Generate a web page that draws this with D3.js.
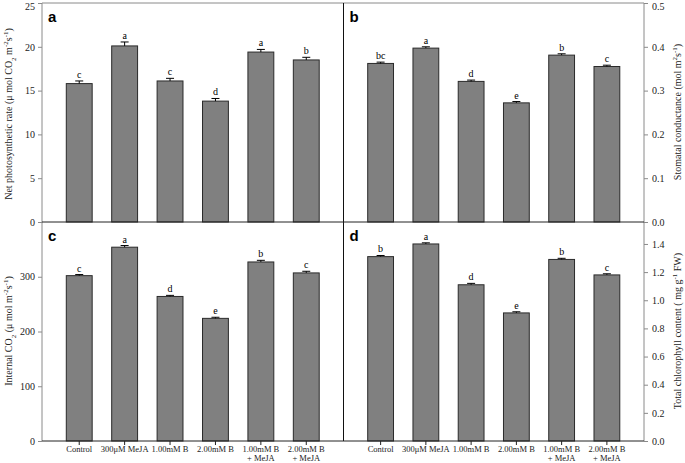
<!DOCTYPE html>
<html><head><meta charset="utf-8">
<script src="https://cdn.jsdelivr.net/npm/d3@7"></script>
<style>body{margin:0;background:#fff}svg{display:block}</style>
</head><body>
<svg id="c" width="685" height="463"></svg>
<script>
const categories = ["Control","300μM MeJA","1.00mM B","2.00mM B","1.00mM B|+ MeJA","2.00mM B|+ MeJA"];
const photoRate = [15.8, 20.1, 16.1, 13.8, 19.4, 18.5];
const photoErr  = [0.3, 0.45, 0.3, 0.3, 0.3, 0.3];
const photoLetters = ["c","a","c","d","a","b"];
const stomCond = [0.362, 0.397, 0.321, 0.272, 0.381, 0.355];
const stomErr  = [0.003, 0.003, 0.003, 0.003, 0.003, 0.003];
const stomLetters = ["bc","a","d","e","b","c"];
const internalCO2 = [302, 354, 264, 224, 327, 307];
const co2Err = [2, 3, 2, 2, 3, 3];
const co2Letters = ["c","a","d","e","b","c"];
const chloro = [1.31, 1.40, 1.11, 0.91, 1.29, 1.18];
const chloroErr = [0.008, 0.008, 0.01, 0.008, 0.008, 0.008];
const chloroLetters = ["b","a","d","e","b","c"];
const ticksA = [0,5,10,15,20,25];
const ticksB = [0,0.1,0.2,0.3,0.4,0.5];
const ticksC = [0,100,200,300];
const ticksD = [0,0.2,0.4,0.6,0.8,1.0,1.2,1.4];

const svg = d3.select("#c");
const L = 42, M = 343.5, R = 644, T = 3, MID = 222, B = 441;
const serif = "'Liberation Serif','Times New Roman',serif";
const axisGray = "#8a8a8a";

function panel(x0, x1, y0, y1, domainMax, vals, errs, letters) {
  const x = d3.scaleBand().domain(categories).range([x0, x1]).paddingInner(0.43).paddingOuter(0.535);
  const y = d3.scaleLinear().domain([0, domainMax]).range([y1, y0]);
  const g = svg.append("g");
  g.selectAll("rect").data(categories).join("rect")
    .attr("x", d => x(d)).attr("width", x.bandwidth())
    .attr("y", (d,i) => y(vals[i])).attr("height", (d,i) => y(0) - y(vals[i]))
    .attr("fill", "#808080").attr("stroke", "#2a2a2a").attr("stroke-width", 1);
  const eb = g.selectAll("g.eb").data(categories).join("g").attr("class","eb");
  eb.append("line")
    .attr("x1", d => x(d) + x.bandwidth()/2).attr("x2", d => x(d) + x.bandwidth()/2)
    .attr("y1", (d,i) => y(vals[i])).attr("y2", (d,i) => y(vals[i] + errs[i]))
    .attr("stroke", "#000").attr("stroke-width", 1);
  eb.append("line")
    .attr("x1", d => x(d) + x.bandwidth()/2 - 4).attr("x2", d => x(d) + x.bandwidth()/2 + 4)
    .attr("y1", (d,i) => y(vals[i] + errs[i])).attr("y2", (d,i) => y(vals[i] + errs[i]))
    .attr("stroke", "#000").attr("stroke-width", 1);
  g.selectAll("text.lt").data(categories).join("text").attr("class","lt")
    .attr("x", d => x(d) + x.bandwidth()/2)
    .attr("y", (d,i) => y(vals[i] + errs[i]) - 3)
    .attr("text-anchor", "middle").attr("font-family", serif).attr("font-size", 10)
    .text((d,i) => letters[i]);
  return {x, y};
}

const pa = panel(L, M, T, MID, 25, photoRate, photoErr, photoLetters);
const pb = panel(M, R, T, MID, 0.5, stomCond, stomErr, stomLetters);
const pc = panel(L, M, MID, B, 400, internalCO2, co2Err, co2Letters);
const pd = panel(M, R, MID, B, 1.556, chloro, chloroErr, chloroLetters);

function styleAxis(g) {
  g.select(".domain").remove();
  g.selectAll(".tick line").attr("stroke", axisGray);
  g.selectAll(".tick text").attr("font-family", serif).attr("font-size", 10).attr("fill", "#222");
}
svg.append("g").attr("transform", `translate(${L},0)`)
  .call(d3.axisLeft(pa.y).tickValues(ticksA).tickSize(4).tickPadding(3)).call(styleAxis);
svg.append("g").attr("transform", `translate(${L},0)`)
  .call(d3.axisLeft(pc.y).tickValues(ticksC).tickSize(4).tickPadding(3)).call(styleAxis);
svg.append("g").attr("transform", `translate(${R},0)`)
  .call(d3.axisRight(pb.y).tickValues(ticksB).tickFormat(d3.format(".1f")).tickSize(4).tickPadding(4)).call(styleAxis);
svg.append("g").attr("transform", `translate(${R},0)`)
  .call(d3.axisRight(pd.y).tickValues(ticksD).tickFormat(d3.format(".1f")).tickSize(4).tickPadding(4)).call(styleAxis);

// keep top tick labels inside the picture
svg.selectAll(".tick text").each(function() {
  const t = d3.select(this);
  const p = this.parentNode.getAttribute("transform");
  const m = /translate\(0,([\d.]+)\)/.exec(p);
  if (m && +m[1] < 6) t.attr("dy", "0.62em");
});

// bottom category axes
[pc, pd].forEach(p => {
  const ax = svg.append("g").attr("transform", `translate(0,${B})`)
    .call(d3.axisBottom(p.x).tickSize(4).tickFormat(""));
  ax.select(".domain").remove();
  ax.selectAll(".tick line").attr("stroke", "#222");
  ax.selectAll(".tick").each(function(d) {
    const t = d3.select(this).append("text").attr("text-anchor","middle")
      .attr("font-family", serif).attr("font-size", 8.5).attr("fill","#222");
    d.split("|").forEach((s, k) => t.append("tspan").attr("x", 0).attr("y", 11 + k*9).text(s));
  });
});

// frame lines
svg.append("line").attr("x1",L).attr("x2",R).attr("y1",T).attr("y2",T).attr("stroke",axisGray);
svg.append("line").attr("x1",L).attr("x2",L).attr("y1",T).attr("y2",B).attr("stroke",axisGray);
svg.append("line").attr("x1",R).attr("x2",R).attr("y1",T).attr("y2",B).attr("stroke",axisGray);
svg.append("line").attr("x1",M).attr("x2",M).attr("y1",T).attr("y2",B).attr("stroke","#111");
svg.append("line").attr("x1",L).attr("x2",R).attr("y1",MID).attr("y2",MID).attr("stroke","#222");
svg.append("line").attr("x1",L).attr("x2",R).attr("y1",B).attr("y2",B).attr("stroke","#222");

// panel letters
[["a",L+6,22],["b",M+6,22],["c",L+6,241],["d",M+6,241]].forEach(([s,x,y]) =>
  svg.append("text").attr("x",x).attr("y",y).attr("font-family","'Liberation Sans',Arial,sans-serif")
    .attr("font-weight","bold").attr("font-size",15).text(s));

// axis titles
function title(x, y, parts) {
  const t = svg.append("text").attr("transform", `translate(${x},${y}) rotate(-90)`)
    .attr("text-anchor","middle").attr("font-family", serif).attr("font-size", 10).attr("fill","#222");
  parts.forEach(([s, shift]) => {
    const ts = t.append("tspan").text(s);
    if (shift) ts.attr("baseline-shift", shift).attr("font-size", 7);
  });
}
title(12, 114, [["Net photosynthetic rate (μ mol CO"],["2","sub"],[" m"],["-2","super"],["s"],["-1","super"],[")"]]);
title(12, 331, [["Internal CO"],["2","sub"],[" (μ mol m"],["-2","super"],["s"],["-1","super"],[")"]]);
title(681, 112, [["Stomatal conductance (mol m"],["2","super"],["s"],["-1","super"],[")"]]);
title(681, 331, [["Total chlorophyll content ( mg g"],["-1","super"],[" FW)"]]);
</script>
</body></html>
